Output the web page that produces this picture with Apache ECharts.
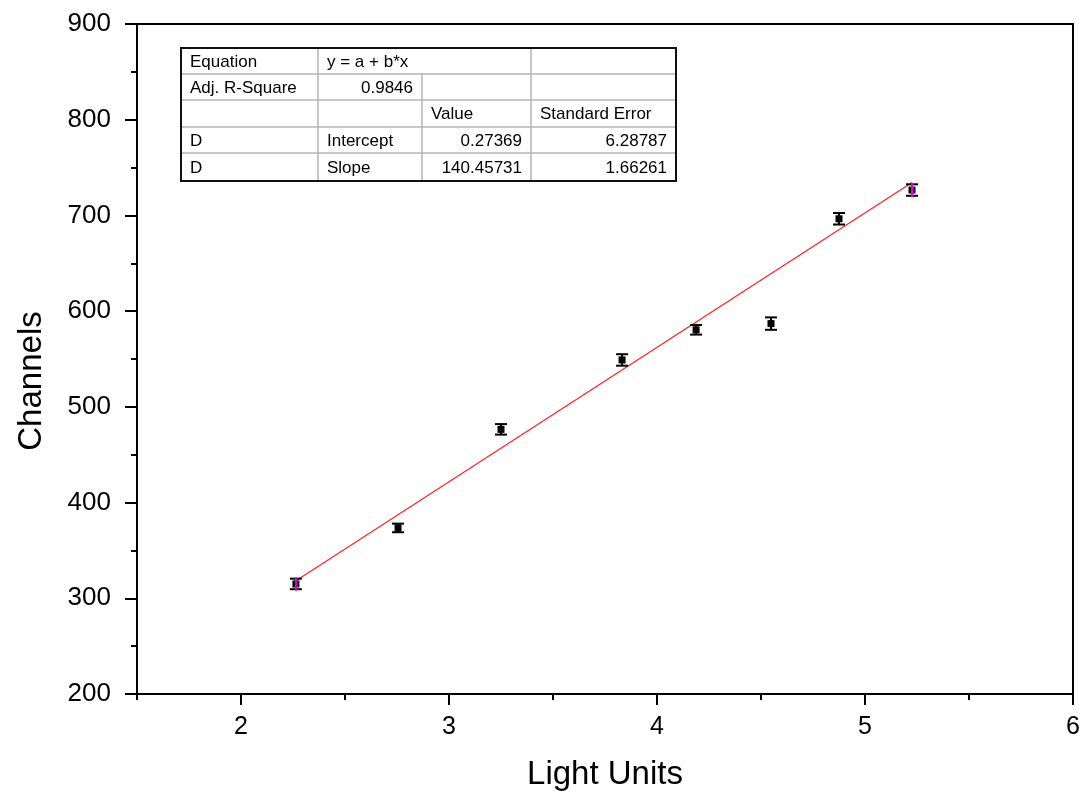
<!DOCTYPE html>
<html>
<head>
<meta charset="utf-8">
<script src="https://cdn.jsdelivr.net/npm/echarts@6/dist/echarts.min.js"></script>
<style>
html,body{margin:0;padding:0;background:#fff;}
#chart{width:1085px;height:801px;}
</style>
</head>
<body>
<div id="chart"></div>
<script>
// ---- data ----
const xVals = [2.264, 2.755, 3.25, 3.832, 4.188, 4.548, 4.875, 5.226];
const yVals = [315, 373.5, 476.5, 549, 580.5, 587, 696.5, 726.5];
const yErr  = [5.5, 4.5, 5.5, 6, 5, 6.5, 6, 6];
const fitIntercept = 0.27369;
const fitSlope = 140.45731;
const xTickLabels = [2, 3, 4, 5, 6];
const xMinorTicks = [1.5, 2.5, 3.5, 4.5, 5.5];
const xName = 'Light Units';
const yName = 'Channels';
const tableRows = [
  ['Equation', 'y = a + b*x', '', ''],
  ['Adj. R-Square', '0.9846', '', ''],
  ['', '', 'Value', 'Standard Error'],
  ['D', 'Intercept', '0.27369', '6.28787'],
  ['D', 'Slope', '140.45731', '1.66261']
];
// ---- layout / style ----
const colX = [181, 318, 422, 531, 676];
const rowY = [48, 74, 100, 127, 153, 181];
const cellAlign = [
  ['left', 'left', 'left', 'left'],
  ['left', 'right', 'left', 'left'],
  ['left', 'left', 'left', 'left'],
  ['left', 'left', 'right', 'right'],
  ['left', 'left', 'right', 'right']
];
const FONT = '"Liberation Sans", Arial, sans-serif';

const chart = echarts.init(document.getElementById('chart'), null, {renderer: 'canvas'});

const pts = xVals.map((x, i) => [x, yVals[i], yErr[i]]);
const xFit0 = xVals[0], xFit1 = xVals[xVals.length - 1];
const fitLine = [[xFit0, fitIntercept + fitSlope * xFit0], [xFit1, fitIntercept + fitSlope * xFit1]];

// table graphic
const graphics = [];
for (let r = 0; r < tableRows.length; r++) {
  if (r < tableRows.length - 1) {
    graphics.push({type: 'line', shape: {x1: colX[0], y1: rowY[r + 1], x2: colX[4], y2: rowY[r + 1]},
      style: {stroke: '#b4b4b4', lineWidth: 1.5}, z: 100});
  }
  for (let c = 1; c < 4; c++) {
    if (r === 0 && c === 2) continue; // merged cell
    graphics.push({type: 'line', shape: {x1: colX[c], y1: rowY[r], x2: colX[c], y2: rowY[r + 1]},
      style: {stroke: '#b4b4b4', lineWidth: 1.5}, z: 100});
  }
  for (let c = 0; c < 4; c++) {
    const txt = tableRows[r][c];
    if (!txt) continue;
    const al = cellAlign[r][c];
    const x = al === 'right' ? colX[c + 1] - 9 : colX[c] + 9;
    graphics.push({type: 'text', x: x, y: (rowY[r] + rowY[r + 1]) / 2 + 1, z: 101,
      style: {text: txt, fill: '#000', font: '17px ' + FONT, align: al, verticalAlign: 'middle'}});
  }
}
graphics.push({type: 'rect', shape: {x: colX[0], y: rowY[0], width: colX[4] - colX[0], height: rowY[5] - rowY[0]},
  style: {fill: 'none', stroke: '#111', lineWidth: 2}, z: 102});

const option = {
  backgroundColor: '#fff',
  animation: false,
  grid: {left: 137, right: 12, top: 24, bottom: 107, show: true, borderColor: '#000', borderWidth: 2, backgroundColor: 'transparent'},
  xAxis: [{
    type: 'value', min: 1.5, max: 6, interval: 0.5,
    name: xName, nameLocation: 'middle', nameGap: 64,
    nameTextStyle: {fontFamily: FONT, fontSize: 33, color: '#000'},
    axisLine: {show: true, onZero: false, lineStyle: {color: '#000', width: 2}},
    axisTick: {show: true, inside: false, length: 11, lineStyle: {color: '#000', width: 2}, customValues: xTickLabels},
    axisLabel: {color: '#000', fontFamily: FONT, fontSize: 25, margin: 21, customValues: xTickLabels},
    splitLine: {show: false}
  }, {
    type: 'value', min: 1.5, max: 6, interval: 0.5, position: 'bottom',
    axisLine: {show: false},
    axisTick: {show: true, inside: false, length: 6, lineStyle: {color: '#000', width: 2}, customValues: xMinorTicks},
    axisLabel: {show: false},
    splitLine: {show: false}
  }],
  yAxis: {
    type: 'value', min: 200, max: 900, interval: 100,
    name: yName, nameLocation: 'middle', nameGap: 89,
    nameTextStyle: {fontFamily: FONT, fontSize: 33, color: '#000', padding: [0, 44, 0, 0]},
    axisLine: {show: true, onZero: false, lineStyle: {color: '#000', width: 2}},
    axisTick: {show: true, inside: false, length: 12, lineStyle: {color: '#000', width: 2}},
    minorTick: {show: true, splitNumber: 2, length: 6, lineStyle: {color: '#000', width: 2}},
    axisLabel: {color: '#000', fontFamily: FONT, fontSize: 26, margin: 26},
    splitLine: {show: false}, minorSplitLine: {show: false}
  },
  series: [{
    type: 'line', data: fitLine, symbol: 'none', xAxisIndex: 0,
    lineStyle: {color: '#ff2020', width: 1.2}, z: 2
  }, {
    type: 'custom', xAxisIndex: 0, data: pts, z: 3,
    renderItem: function (params, api) {
      const x = api.value(0), y = api.value(1), e = api.value(2);
      const c = api.coord([x, y]);
      const top = api.coord([x, y + e]);
      const bot = api.coord([x, y - e]);
      const cap = 6;
      const children = [
        {type: 'line', shape: {x1: c[0], y1: top[1], x2: c[0], y2: bot[1]}, style: {stroke: '#000', lineWidth: 2}},
        {type: 'line', shape: {x1: c[0] - cap, y1: top[1], x2: c[0] + cap, y2: top[1]}, style: {stroke: '#000', lineWidth: 2}},
        {type: 'line', shape: {x1: c[0] - cap, y1: bot[1], x2: c[0] + cap, y2: bot[1]}, style: {stroke: '#000', lineWidth: 2}},
        {type: 'rect', shape: {x: c[0] - 3.5, y: c[1] - 3.5, width: 7, height: 7}, style: {fill: '#000'}}
      ];
      if (params.dataIndex === 0 || params.dataIndex === xVals.length - 1) {
        const t2 = api.coord([x, y + e + 1.5]);
        const b2 = api.coord([x, y - e - 1.5]);
        children.push({type: 'line', shape: {x1: c[0], y1: t2[1], x2: c[0], y2: b2[1]}, style: {stroke: '#e000e0', lineWidth: 2}});
      }
      return {type: 'group', children: children};
    }
  }],
  graphic: graphics
};
chart.setOption(option);
</script>
</body>
</html>
